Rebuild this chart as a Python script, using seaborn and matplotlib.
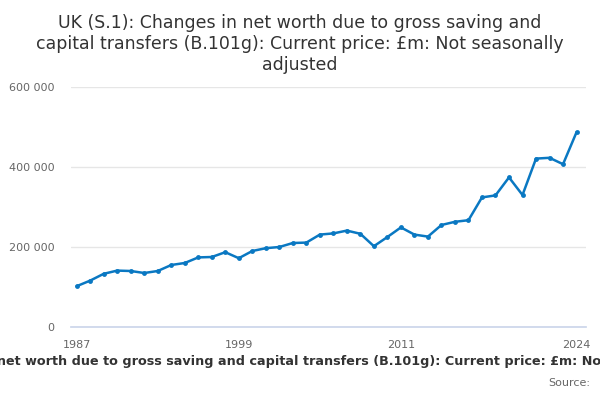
import numpy as np
import pandas as pd
import matplotlib
matplotlib.use("Agg")
import matplotlib.pyplot as plt
import seaborn as sns

years = list(range(1987, 2025))
values = [102000, 116000, 133000, 141000, 140000, 135000, 140000, 155000, 160000, 174000,
          175000, 187000, 172000, 190000, 197000, 200000, 210000, 211000, 231000, 234000,
          241000, 233000, 202000, 225000, 249000, 231000, 226000, 255000, 263000, 267000,
          324000, 329000, 374000, 330000, 421000, 423000, 407000, 487000]
tick_years = [1987, 1990, 1993, 1996, 1999, 2002, 2005, 2008, 2011, 2014, 2017, 2020, 2024]
label_years = [1987, 1999, 2011, 2024]
y_ticks = [0, 200000, 400000, 600000]

title = "UK (S.1): Changes in net worth due to gross saving and\ncapital transfers (B.101g): Current price: £m: Not seasonally\nadjusted"
xlabel = "UK (S.1): Changes in net worth due to gross saving and capital transfers (B.101g): Current price: £m: Not seasonally adjusted"

df = pd.DataFrame({"year": years, "value": values})

sns.set_theme(style="white")
plt.rcParams['font.family'] = ['DejaVu Sans']

fig = plt.figure(figsize=(6, 4), dpi=100)
ax = fig.add_axes([71 / 600, 1 - 327 / 400, (586 - 71) / 600, (327 - 87) / 400])

sns.lineplot(data=df, x="year", y="value", ax=ax, color="#0a78c2", linewidth=1.8,
             marker="o", markersize=3.5, markeredgewidth=0)

ax.set_xlim(1986.58, 2024.7)
ax.set_ylim(0, 600000)
ax.set_xticks(tick_years)
ax.set_xticklabels([str(y) if y in label_years else "" for y in tick_years])
ax.set_yticks(y_ticks)
ax.set_yticklabels(["0" if v == 0 else f"{v:,}".replace(",", " ") for v in y_ticks])
ax.grid(axis="y", color="#e6e6e6", linewidth=1)
ax.set_axisbelow(True)
for s in ["left", "right", "top"]:
    ax.spines[s].set_visible(False)
ax.spines["bottom"].set_color("#ccd6eb")
ax.tick_params(axis="x", colors="#ccd6eb", length=9, width=1, direction="out", pad=0,
               labelcolor="#666666", labelsize=8)
ax.tick_params(axis="y", length=0, labelcolor="#666666", labelsize=8, pad=12)
ax.set_xlabel("")
ax.set_ylabel("")

fig.text(0.5, 1 - 44 / 400, title, ha="center", va="center", fontsize=12.5,
         color="#333333", linespacing=1.25)
fig.text(0.5, 1 - 361 / 400, xlabel, ha="center", va="center", fontsize=9.2,
         fontweight="bold", color="#333333")
fig.text(590 / 600, 1 - 383 / 400, "Source:", ha="right", va="center", fontsize=8,
         color="#666666")

fig.savefig("out.png", dpi=100)
